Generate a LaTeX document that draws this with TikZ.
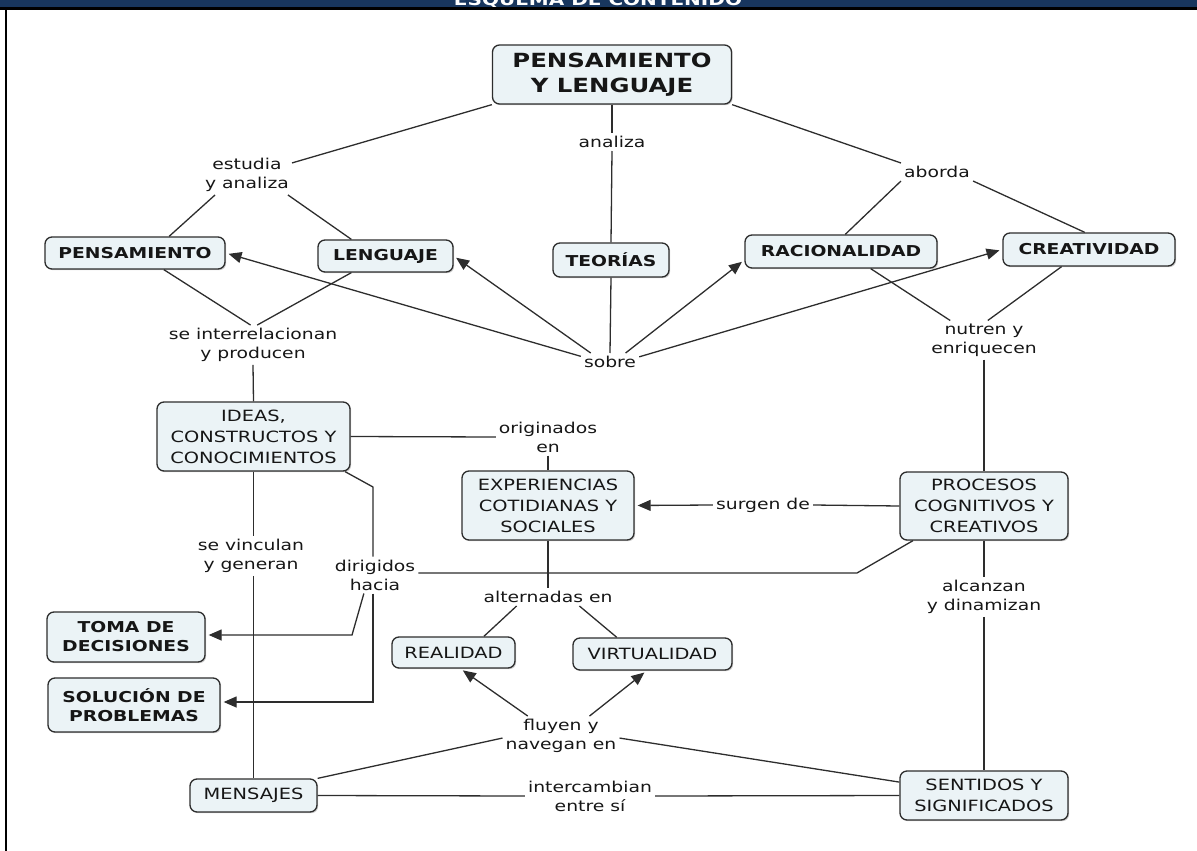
\documentclass[tikz,border=0pt]{standalone}
\usepackage{fontspec}
\setmainfont{DejaVu Sans}[FakeStretch=1.25]
\usetikzlibrary{arrows.meta,shadows,calc}
\definecolor{hdr}{RGB}{24,54,94}
\definecolor{cfill}{RGB}{235,243,246}
\definecolor{cline}{RGB}{45,45,45}
\definecolor{ctext}{RGB}{22,22,22}
\tikzset{
  concept/.style={draw=cline, line width=1.3pt, fill=cfill, rounded corners=7pt,
    align=center, text=ctext, inner sep=2pt,
    drop shadow={shadow xshift=1.2pt, shadow yshift=-1.2pt, fill=black!40, opacity=.5}},
  bold/.style={concept, font=\bfseries\fontsize{15}{19}\selectfont},
  bigc/.style={concept, font=\bfseries\fontsize{19.5}{25}\selectfont},
  plain/.style={concept, font=\fontsize{15.5}{21}\selectfont},
  lab/.style={align=center, text=ctext, inner sep=3pt, font=\fontsize{15}{19}\selectfont},
  link/.style={draw=cline, line width=1.3pt},
  arr/.style={link, -{Triangle[length=13pt,width=11pt]}, shorten >=3pt}
}
\begin{document}
\begin{tikzpicture}[x=1pt,y=-1pt]
\useasboundingbox (0,0) rectangle (1197,851);
% header
\fill[hdr] (0,0) rectangle (1197,7.5);
\begin{scope}
  \clip (0,0) rectangle (1197,7.5);
  \node[anchor=base, text=white, font=\bfseries\fontsize{16}{18}\selectfont, inner sep=0pt] (title) at (598,5.5) {ESQUEMA DE CONTENIDO};
\end{scope}
\fill[black] (0,7.5) rectangle (1197,10);
\fill[black] (5,10) rectangle (7.2,851);

% concepts
\node[bigc, minimum width=239pt, minimum height=59pt] (top) at (612,74.5) {PENSAMIENTO\\Y LENGUAJE};
\node[bold, minimum width=180pt, minimum height=32pt] (pens) at (135,253) {PENSAMIENTO};
\node[bold, minimum width=135pt, minimum height=32pt] (leng) at (385.5,256) {LENGUAJE};
\node[bold, minimum width=116pt, minimum height=34pt] (teor) at (611,260) {TEORÍAS};
\node[bold, minimum width=192pt, minimum height=33pt] (raci) at (841,251.5) {RACIONALIDAD};
\node[bold, minimum width=172pt, minimum height=33pt] (crea) at (1089,249.5) {CREATIVIDAD};
\node[plain, minimum width=193pt, minimum height=69pt] (ideas) at (253.5,436.5) {IDEAS,\\CONSTRUCTOS Y\\CONOCIMIENTOS};
\node[plain, minimum width=172pt, minimum height=69pt] (exper) at (548,505.5) {EXPERIENCIAS\\COTIDIANAS Y\\SOCIALES};
\node[plain, minimum width=168pt, minimum height=68pt] (proc) at (984,506) {PROCESOS\\COGNITIVOS Y\\CREATIVOS};
\node[bold, minimum width=158pt, minimum height=50pt] (toma) at (126,637) {TOMA DE\\DECISIONES};
\node[bold, minimum width=172pt, minimum height=54pt] (solu) at (134,705) {SOLUCIÓN DE\\PROBLEMAS};
\node[plain, minimum width=123pt, minimum height=31pt] (real) at (453.5,652.5) {REALIDAD};
\node[plain, minimum width=159pt, minimum height=32pt] (virt) at (652.5,654) {VIRTUALIDAD};
\node[plain, minimum width=127pt, minimum height=33pt] (mens) at (253.5,795.5) {MENSAJES};
\node[plain, minimum width=168pt, minimum height=49pt] (sent) at (984,795.5) {SENTIDOS Y\\SIGNIFICADOS};

% linking phrases
\node[lab] (estudia) at (247,175) {estudia\\y analiza};
\node[lab] (analiza) at (612,142) {analiza};
\node[lab] (aborda) at (937,172) {aborda};
\node[lab] (seinter) at (253,345) {se interrelacionan\\y producen};
\node[lab] (sobre) at (610,362) {sobre};
\node[lab] (nutren) at (984,340) {nutren y\\enriquecen};
\node[lab] (orig) at (548,437) {originados\\en};
\node[lab] (surgen) at (763,505) {surgen de};
\node[lab] (sevinc) at (251,556) {se vinculan\\y generan};
\node[lab] (dirig) at (375,575) {dirigidos\\hacia};
\node[lab] (altern) at (548,597) {alternadas en};
\node[lab] (alcanz) at (984,597) {alcanzan\\y dinamizan};
\node[lab] (fluyen) at (561,736) {fluyen y\\navegan en};
\node[lab] (interc) at (590,796) {intercambian\\entre sí};

% bend points
\coordinate (b1) at (857,573);
\coordinate (b2) at (373,487);
\coordinate (b3) at (352,635);
\coordinate (b4) at (373,702);

% links
\draw[link] (top.south west) -- (estudia.15);
\draw[link] (estudia.-148) -- (pens.26);
\draw[link] (estudia.-26) -- (leng.154);
\draw[link] (top.south) -- (analiza.north);
\draw[link] (analiza.south) -- (teor.north);
\draw[link] (top.south east) -- (aborda.north west);
\draw[link] (aborda.south west) -- (raci.76);
\draw[link] (aborda.south east) -- (crea.104);
\draw[link] (pens.-30) -- (seinter.97);
\draw[link] (leng.-154) -- (seinter.78);
\draw[link] (seinter.south) -- (ideas.north);
\draw[arr] (sobre.169) -- (pens.east);
\draw[arr] (sobre.155) -- (leng.east);
\draw[link] (sobre.north) -- (teor.south);
\draw[arr] (sobre.30) -- (raci.185);
\draw[arr] (sobre.10) -- (crea.west);
\draw[link] (raci.-30) -- (nutren.150);
\draw[link] (crea.-148) -- (nutren.79);
\draw[link] (nutren.south) -- (proc.north);
\draw[link] (ideas.east) -- (orig.west);
\draw[link] (orig.south) -- (exper.north);
\draw[link] (proc.west) -- (surgen.east);
\draw[arr] (surgen.west) -- (exper.east);
\draw[link] (proc.-154) -- (b1) -- (b1 -| dirig.east);
\draw[link] (ideas.-21) -- (b2) -- (b2 |- dirig.north);
\draw[arr] (dirig.-121) -- (b3) -- (b3 -| toma.east);
\draw[arr] (b4 |- dirig.south) -- (b4) -- (b4 -| solu.east);
\draw[link] (ideas.south) -- (ideas.south |- sevinc.north);
\draw[link] (mens.north |- sevinc.south) -- (mens.north);
\draw[link] (exper.south) -- (altern.north);
\draw[link] (altern.-164) -- (real.28);
\draw[link] (altern.-16) -- (virt.155);
\draw[link] (proc.south) -- (alcanz.north);
\draw[link] (alcanz.south) -- (sent.north);
\draw[arr] (fluyen.149) -- (real.-67);
\draw[arr] (fluyen.35) -- (virt.-109);
\draw[link] (mens.north east) -- (fluyen.182);
\draw[link] (fluyen.-2) -- (sent.171);
\draw[link] (mens.east) -- (interc.west);
\draw[link] (interc.east) -- (sent.west);
\end{tikzpicture}
\end{document}
